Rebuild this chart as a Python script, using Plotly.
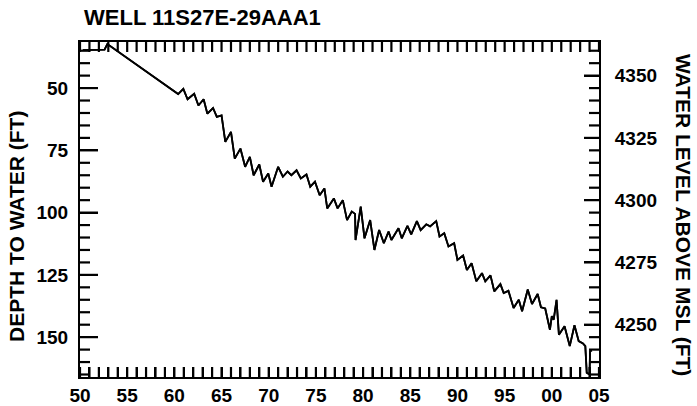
import plotly.graph_objects as go

# ---- data ----
title_text = "WELL 11S27E-29AAA1"
land_surface_ft = 4395  # altitude used for right-hand scale

years = [1950.3, 1952.6, 1952.9, 1960.4, 1960.95, 1961.4, 1962.1, 1962.55, 1963.1, 1963.5,
         1964.1, 1964.5, 1965.0, 1965.4, 1966.0, 1966.4, 1967.0, 1967.5, 1968.0, 1968.4,
         1969.0, 1969.4, 1969.95, 1970.3, 1971.0, 1971.5, 1972.0, 1972.4, 1972.95, 1973.4,
         1974.0, 1974.4, 1974.9, 1975.4, 1975.9, 1976.2, 1976.9, 1977.3, 1977.85, 1978.3,
         1978.8, 1979.15, 1979.2, 1979.75, 1980.15, 1980.75, 1981.2, 1981.7, 1982.2, 1982.7,
         1983.0, 1983.75, 1984.1, 1984.7, 1985.1, 1985.7, 1986.1, 1986.7, 1987.1, 1987.75,
         1988.1, 1988.6, 1989.05, 1989.65, 1990.0, 1990.6, 1991.0, 1991.5, 1992.0, 1992.6,
         1992.95, 1993.5, 1993.9, 1994.55, 1994.9, 1995.4, 1995.95, 1996.5, 1996.85, 1997.45,
         1997.9, 1998.5, 1998.85, 1999.3, 1999.8, 2000.0, 2000.2, 2000.5, 2000.75, 2001.35,
         2001.9, 2002.4, 2002.85, 2003.3, 2003.55, 2003.7, 2004.0, 2004.05, 2004.25]

depth_ft = [34.8, 34.6, 32.3, 52.4, 50.3, 54.5, 52.3, 57.0, 54.5, 60.3,
            58.0, 61.6, 61.0, 71.6, 67.6, 78.3, 74.3, 81.6, 77.6, 85.0,
            80.7, 87.6, 84.3, 89.6, 81.6, 85.6, 83.5, 85.0, 83.0, 86.3,
            84.7, 89.6, 87.6, 93.0, 90.3, 98.3, 94.3, 98.3, 95.0, 103.0,
            99.6, 100.5, 111.0, 97.6, 110.3, 103.0, 115.0, 107.0, 112.3, 107.6,
            111.0, 106.3, 110.3, 105.3, 108.7, 103.4, 107.0, 104.7, 105.5, 103.4,
            109.6, 108.3, 113.6, 112.3, 119.0, 117.2, 123.0, 120.3, 127.6, 124.3,
            127.6, 125.2, 131.6, 128.7, 132.3, 131.4, 138.3, 135.0, 139.6, 130.9,
            136.7, 132.7, 138.0, 138.5, 147.0, 141.6, 143.0, 135.0, 149.0, 145.6,
            153.6, 145.2, 151.6, 152.5, 153.6, 164.3, 165.0, 155.6, 155.3]

x_label_years = [1950, 1955, 1960, 1965, 1970, 1975, 1980, 1985, 1990, 1995, 2000, 2005]
x_label_text = ["50", "55", "60", "65", "70", "75", "80", "85", "90", "95", "00", "05"]
depth_ticks = [50, 75, 100, 125, 150]
level_ticks = [4250, 4275, 4300, 4325, 4350]

x_range = [1950, 2005]
depth_range = [166.0, 31.5]
level_range = [land_surface_ft - depth_range[0], land_surface_ft - depth_range[1]]
level_ft = [land_surface_ft - d for d in depth_ft]

# ---- figure geometry ----
W, H = 697, 406
M = dict(l=80, r=98, t=42, b=29)
plot_w = W - M["l"] - M["r"]
plot_h = H - M["t"] - M["b"]
px_per_year = plot_w / (x_range[1] - x_range[0])
px_per_ft = plot_h / (depth_range[0] - depth_range[1])

FONT = "Liberation Sans"
tickfont = dict(family=FONT, size=19, color="black", weight="bold")
titlefont = dict(family=FONT, size=21, color="black", weight="bold")
all_years = list(range(x_range[0], x_range[1] + 1))
x_ticktext = [x_label_text[x_label_years.index(y)] if y in x_label_years else "" for y in all_years]

fig = go.Figure()
fig.add_trace(go.Scatter(x=years, y=depth_ft, mode="lines",
                         line=dict(color="black", width=1.8), showlegend=False,
                         hoverinfo="skip"))
# same series on the right-hand (altitude) scale; coincides with the depth line
fig.add_trace(go.Scatter(x=years, y=level_ft, mode="lines", yaxis="y2",
                         line=dict(color="black", width=1.8), showlegend=False,
                         hoverinfo="skip"))

# ---- tick marks (inside the frame), built from the axis values ----
tx, ty = [], []
ylen = 10 / px_per_ft
for yr in all_years:
    tx += [yr, yr, None, yr, yr, None]
    ty += [depth_range[0], depth_range[0] - ylen, None,
           depth_range[1], depth_range[1] + ylen, None]
lx, ly = [], []
d = 35
while d <= 165:
    ln = (18 if d in depth_ticks else 10) / px_per_year
    lx += [x_range[0], x_range[0] + ln, None]
    ly += [d, d, None]
    d += 5
rx, ry = [], []
lv = 4230
while lv <= 4360:
    ln = (15 if lv in level_ticks else 10) / px_per_year
    rx += [x_range[1], x_range[1] - ln, None]
    ry += [lv, lv, None]
    lv += 5
tick_line = dict(color="black", width=2.2)
fig.add_trace(go.Scatter(x=tx, y=ty, mode="lines", line=tick_line, showlegend=False,
                         hoverinfo="skip", connectgaps=False))
fig.add_trace(go.Scatter(x=lx, y=ly, mode="lines", line=tick_line, showlegend=False,
                         hoverinfo="skip", connectgaps=False))
fig.add_trace(go.Scatter(x=rx, y=ry, mode="lines", yaxis="y2", line=tick_line,
                         showlegend=False, hoverinfo="skip", connectgaps=False))

fig.update_layout(
    template="none",
    width=W, height=H,
    margin=dict(**M, pad=0),
    paper_bgcolor="white", plot_bgcolor="white",
    xaxis=dict(range=x_range, tickmode="array", tickvals=all_years, ticktext=x_ticktext,
               ticks="inside", ticklen=10, tickwidth=2, tickcolor="black",
               showline=True, linecolor="black", linewidth=2, mirror=True,
               showgrid=False, zeroline=False, tickfont=tickfont),
    yaxis=dict(range=depth_range, tickmode="array", tickvals=depth_ticks,
               ticks="inside", ticklen=18, tickwidth=2, tickcolor="black",
               showline=True, linecolor="black", linewidth=2,
               showgrid=False, zeroline=False, tickfont=tickfont, ticklabelstandoff=6),
    yaxis2=dict(range=level_range, overlaying="y", side="right", anchor="x",
                tickmode="array", tickvals=level_ticks,
                ticks="inside", ticklen=15, tickwidth=2, tickcolor="black",
                showline=True, linecolor="black", linewidth=2,
                showgrid=False, zeroline=False, tickfont=tickfont, ticklabelstandoff=10),
)

fig.add_annotation(text=title_text, xref="paper", yref="paper", x=0.003, y=1,
                   xanchor="left", yanchor="middle", yshift=25, showarrow=False,
                   font=dict(family=FONT, size=22, color="black", weight="bold"))
fig.add_annotation(text="DEPTH TO WATER (FT)", xref="paper", yref="paper",
                   x=-0.122, y=0.45, xanchor="center", yanchor="middle",
                   textangle=-90, showarrow=False, font=titlefont)
fig.add_annotation(text="WATER LEVEL ABOVE MSL (FT)", xref="paper", yref="paper",
                   x=1.163, y=0.485, xanchor="center", yanchor="middle",
                   textangle=90, showarrow=False, font=titlefont)

fig.write_html("out.html")
